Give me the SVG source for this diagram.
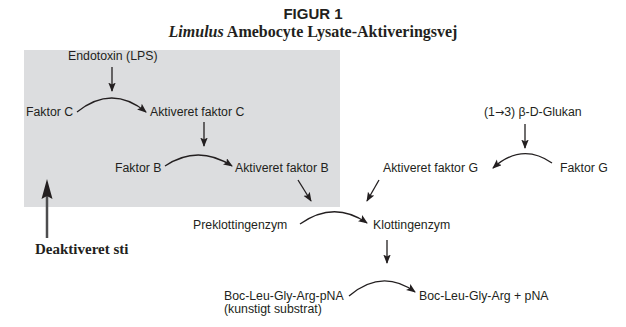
<svg xmlns="http://www.w3.org/2000/svg" width="626" height="327" viewBox="0 0 626 327">
<defs>
<style>
.t{font-family:"Liberation Sans",Arial,sans-serif;font-size:12.3px;fill:#231f20}
.s{font-family:"Liberation Serif","Times New Roman",serif;font-weight:bold;fill:#231f20}
.c{fill:none;stroke:#231f20;stroke-width:1.3}
</style>
<marker id="ah" markerWidth="11" markerHeight="8" refX="8.5" refY="3.75" orient="auto" markerUnits="userSpaceOnUse">
<path d="M0,0 L9.5,3.75 L0,7.5 L2,3.75 z" fill="#231f20"/>
</marker>
</defs>
<rect x="0" y="0" width="626" height="327" fill="#ffffff"/>
<g id="title">
<text x="313" y="19" text-anchor="middle" style="font-family:'Liberation Sans',Arial,sans-serif;font-weight:bold;font-size:15px;fill:#231f20">FIGUR 1</text>
<text x="313" y="37" text-anchor="middle" class="s" font-size="16"><tspan font-style="italic">Limulus</tspan> Amebocyte Lysate-Aktiveringsvej</text>
</g>
<rect id="deactivated-area" x="24" y="50" width="316" height="157" fill="#dcdddf"/>
<g id="n-endotoxin"><text class="t" x="68" y="60">Endotoxin (LPS)</text></g>
<g id="n-faktorC"><text class="t" x="26" y="116">Faktor C</text></g>
<g id="n-aktC"><text class="t" x="150" y="116">Aktiveret faktor C</text></g>
<g id="n-faktorB"><text class="t" x="115" y="172">Faktor B</text></g>
<g id="n-aktB"><text class="t" x="235" y="172">Aktiveret faktor B</text></g>
<g id="n-glukan"><text class="t" x="484" y="116">(1<tspan style="font-family:'DejaVu Sans',sans-serif;font-size:11px">→</tspan>3) β-D-Glukan</text></g>
<g id="n-aktG"><text class="t" x="383" y="172">Aktiveret faktor G</text></g>
<g id="n-faktorG"><text class="t" x="560" y="172">Faktor G</text></g>
<g id="n-preklot"><text class="t" x="193" y="229">Preklottingenzym</text></g>
<g id="n-klot"><text class="t" x="373" y="229">Klottingenzym</text></g>
<g id="n-substrat"><text class="t" x="224" y="300">Boc-Leu-Gly-Arg-pNA</text><text class="t" x="224" y="313">(kunstigt substrat)</text></g>
<g id="n-produkt"><text class="t" x="419" y="300">Boc-Leu-Gly-Arg + pNA</text></g>
<g id="n-deaktiveret">
<line x1="47" y1="238" x2="47" y2="195" stroke="#4d4d4f" stroke-width="2.5"/>
<polygon points="47,179 52.5,199 47,196 41.5,199" fill="#231f20"/>
<text class="s" x="35" y="254" font-size="15">Deaktiveret sti</text>
</g>
<g id="connectors">
<line class="c" x1="112" y1="67" x2="112" y2="91" marker-end="url(#ah)"/>
<path class="c" d="M77,112 Q112,84 146,112" marker-end="url(#ah)"/>
<line class="c" x1="204" y1="122" x2="204" y2="146" marker-end="url(#ah)"/>
<path class="c" d="M165,166 Q198,144 232,166" marker-end="url(#ah)"/>
<line class="c" x1="298" y1="180" x2="311" y2="201" marker-end="url(#ah)"/>
<line class="c" x1="525" y1="124" x2="525" y2="148" marker-end="url(#ah)"/>
<path class="c" d="M552,163 Q522,142 493,168" marker-end="url(#ah)"/>
<line class="c" x1="379" y1="180" x2="367" y2="201" marker-end="url(#ah)"/>
<path class="c" d="M300,224 Q334,200 367,223" marker-end="url(#ah)"/>
<line class="c" x1="387" y1="240" x2="387" y2="263" marker-end="url(#ah)"/>
<path class="c" d="M349,296 Q382,268 415,292" marker-end="url(#ah)"/>
</g>
</svg>
